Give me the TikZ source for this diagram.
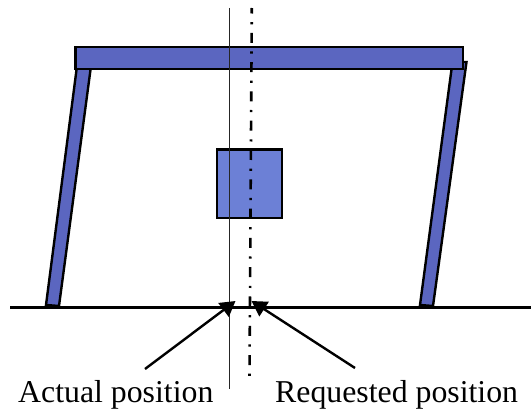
\documentclass[tikz,border=0pt]{standalone}
\usepackage{fontspec}
\setmainfont{Liberation Serif}
\usetikzlibrary{arrows.meta}
\definecolor{barblue}{RGB}{91,102,192}
\definecolor{boxblue}{RGB}{108,128,214}

\begin{document}
\begin{tikzpicture}[x=1pt, y=-1pt,
    part/.style={draw=black, line width=2.4pt, fill=barblue},
    label/.style={anchor=base west, inner sep=0pt, font=\fontsize{31.8}{32}\selectfont},
    pointer/.style={line width=2.4pt, -{Triangle[length=15pt, width=17pt]}}]
    \useasboundingbox (0, 0) rectangle (531, 412);

    % Legs
    \draw[part] (77, 66) -- (91, 66) -- (59, 306) -- (46, 305) -- cycle;
    \draw[part] (452.5, 62) -- (466.5, 62) -- (433, 306) -- (420, 305) -- cycle;

    % Top bar
    \draw[part] (75.5, 47) rectangle (463, 69);

    % Centre box
    \draw[part, fill=boxblue] (217, 149.5) rectangle (282, 218);

    % Ground
    \draw[line width=2.2pt] (10, 307.5) -- (531, 307.5);

    % Actual and requested lines
    \draw[line width=1.1pt, black!85] (229.7, 8) -- (229.7, 389);
    \draw[line width=2.6pt, dash pattern=on 10pt off 8.6pt on 2.2pt off 8.5pt, dash phase=4.5pt]
        (251.8, 8) -- (249.5, 376);

    % Labels and arrows
    \node[label] (actual) at (18, 402) {Actual position};
    \node[label] (requested) at (275, 402) {Requested position};
    \coordinate (actualfrom) at (145, 369);
    \coordinate (actualto) at (235.5, 301);
    \coordinate (requestedfrom) at (355, 368);
    \coordinate (requestedto) at (251.5, 301);
    \draw[pointer] (actualfrom) -- (actualto);
    \draw[pointer] (requestedfrom) -- (requestedto);
\end{tikzpicture}
\end{document}
